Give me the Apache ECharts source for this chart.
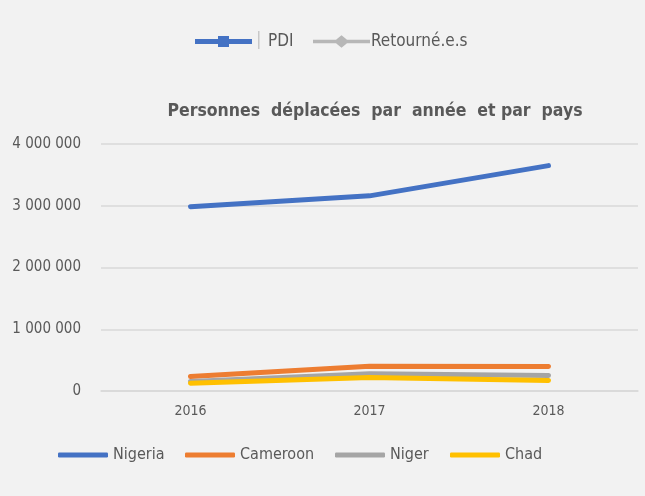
<!DOCTYPE html>
<html>
<head>
<meta charset="utf-8">
<title>Personnes déplacées</title>
<script src="https://cdn.jsdelivr.net/npm/echarts@6/dist/echarts.min.js"></script>
<style>
  html, body { margin: 0; padding: 0; background: #f2f2f2; }
</style>
</head>
<body>
<div id="main" style="width: 645px; height: 496px;"></div>
<script type="text/javascript">
var years = ['2016', '2017', '2018'];
var nigeria = [2985000, 3160000, 3650000];
var cameroon = [235000, 400000, 395000];
var niger = [155000, 280000, 250000];
var chad = [127000, 220000, 170000];

var FONT = '"Liberation Sans Narrow", "DejaVu Sans Condensed", sans-serif';

function fmt(v) {
  return String(v).replace(/\B(?=(\d{3})+(?!\d))/g, ' ');
}

function lineSeries(name, color, values) {
  return {
    name: name,
    type: 'line',
    data: values,
    symbol: 'none',
    lineStyle: { color: color, width: 5, cap: 'round', join: 'round' },
    itemStyle: { color: color },
    emphasis: { disabled: true }
  };
}

// one legend per entry so each sits where it does in the original
function legendAt(item, left, opts) {
  return Object.assign({
    data: [item],
    left: left,
    padding: 0,
    textStyle: { fontFamily: FONT, fontSize: 16, color: '#595959' }
  }, opts);
}

var pdiIcon = 'path://M0,5 L23,5 L23,2 L34,2 L34,5 L57,5 L57,10 L34,10 L34,13 L23,13 L23,10 L0,10 Z';
var retIcon = 'path://M0,6 L23,6 L28.5,1.5 L34,6 L57,6 L57,9.5 L34,9.5 L28.5,14 L23,9.5 L0,9.5 Z';
var topOpts = { top: 33, itemWidth: 57, itemHeight: 14 };
var botOpts = { bottom: 33, itemWidth: 50, itemHeight: 5, icon: 'roundRect' };

var myChart = echarts.init(document.getElementById('main'));

var option = {
  backgroundColor: '#f2f2f2',
  animation: false,
  textStyle: { fontFamily: FONT },
  title: {
    text: 'Personnes  déplacées  par  année  et par  pays',
    left: 370,
    top: 97,
    textAlign: 'center',
    textStyle: { fontFamily: FONT, fontSize: 17.5, fontWeight: 'bold', color: '#595959' }
  },
  legend: [
    legendAt({ name: 'PDI', icon: pdiIcon }, 195, Object.assign({}, topOpts, {
      textStyle: { fontFamily: FONT, fontSize: 17, color: '#595959', padding: [0, 0, 0, 11] }
    })),
    legendAt({ name: 'Retourné.e.s', icon: retIcon }, 313, Object.assign({}, topOpts, {
      textStyle: { fontFamily: FONT, fontSize: 17, color: '#595959', padding: [0, 0, 0, -4] }
    })),
    legendAt('Nigeria', 58, botOpts),
    legendAt('Cameroon', 185, botOpts),
    legendAt('Niger', 335, botOpts),
    legendAt('Chad', 450, botOpts)
  ],
  grid: { left: 101, right: 7, top: 144, bottom: 105 },
  xAxis: {
    type: 'category',
    data: years,
    boundaryGap: true,
    axisLine: { lineStyle: { color: '#d9d9d9', width: 1.5 } },
    axisTick: { show: false },
    axisLabel: { fontFamily: FONT, fontSize: 14, color: '#595959', margin: 13 }
  },
  yAxis: {
    type: 'value',
    min: 0,
    max: 4000000,
    interval: 1000000,
    axisLine: { show: false },
    axisTick: { show: false },
    splitLine: { lineStyle: { color: '#d9d9d9', width: 1.5 } },
    axisLabel: { fontFamily: FONT, fontSize: 15, color: '#595959', margin: 20, formatter: fmt }
  },
  graphic: [
    { type: 'rect', left: 258, top: 31, shape: { width: 1.5, height: 18 }, style: { fill: '#c8c8c8' } }
  ],
  series: [
    { name: 'PDI', type: 'line', data: [], itemStyle: { color: '#4472c4' }, lineStyle: { color: '#4472c4' } },
    { name: 'Retourné.e.s', type: 'line', data: [], itemStyle: { color: '#b7b7b7' }, lineStyle: { color: '#b7b7b7' } },
    lineSeries('Nigeria', '#4472c4', nigeria),
    lineSeries('Cameroon', '#ed7d31', cameroon),
    lineSeries('Niger', '#a5a5a5', niger),
    lineSeries('Chad', '#ffc000', chad)
  ]
};

// Chad drawn above Niger, Niger above Cameroon as in the original
option.series[4].z = 3;
option.series[5].z = 4;

myChart.setOption(option);
</script>
</body>
</html>
